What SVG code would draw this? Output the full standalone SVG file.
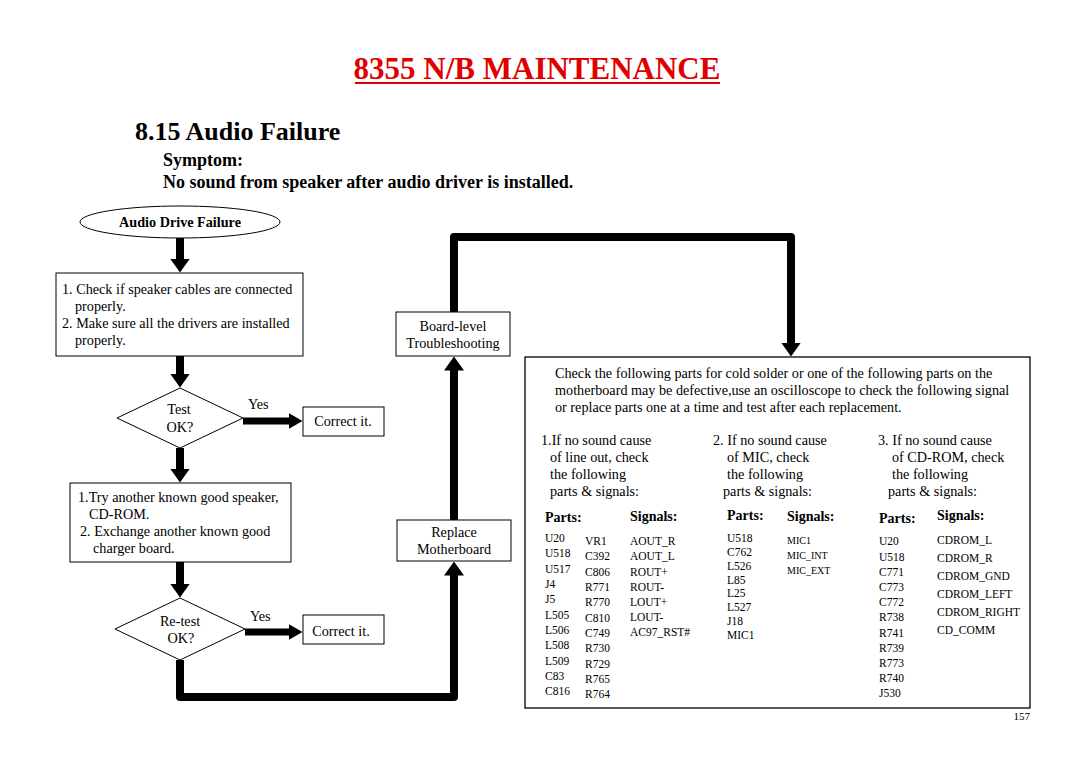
<svg xmlns="http://www.w3.org/2000/svg" width="1080" height="763" viewBox="0 0 1080 763">
<style>
text{font-family:"Liberation Serif","Times New Roman",serif;fill:#000}
.t{font-size:14.2px}
.c{text-anchor:middle}
.b{font-weight:bold}
.s{font-size:11.5px}
.xs{font-size:10px}
.h{font-size:14px;font-weight:bold}
.box{fill:#fff;stroke:#000;stroke-width:1}
.thick{fill:none;stroke:#000;stroke-width:8;stroke-linejoin:round}
.yes{fill:none;stroke:#000;stroke-width:7}
</style>
<defs>
<marker id="ah" viewBox="0 0 14 20" markerWidth="14" markerHeight="20" refX="0.5" refY="10" orient="auto" markerUnits="userSpaceOnUse">
<path d="M0,0 L14,10 L0,20 z" fill="#000"/>
</marker>
<marker id="ahs" viewBox="0 0 14 16" markerWidth="14" markerHeight="16" refX="0.5" refY="8" orient="auto" markerUnits="userSpaceOnUse">
<path d="M0,0 L14,8 L0,16 z" fill="#000"/>
</marker>
</defs>
<rect width="1080" height="763" fill="#fff"/>

<g id="title">
<text x="537" y="79" class="c b" style="font-size:31px;fill:#e00000">8355 N/B MAINTENANCE</text>
<rect x="355" y="82" width="365" height="2" fill="#e00000"/>
<text x="135" y="140" class="b" style="font-size:26px">8.15 Audio Failure</text>
<text x="163" y="166" class="b" style="font-size:18px">Symptom:</text>
<text x="163" y="188" class="b" style="font-size:18px">No sound from speaker after audio driver is installed.</text>
</g>

<g id="connectors">
<line x1="180" y1="238" x2="180" y2="259" class="thick" marker-end="url(#ah)"/>
<line x1="180" y1="356" x2="180" y2="374" class="thick" marker-end="url(#ah)"/>
<line x1="243" y1="421" x2="289" y2="421" class="yes" marker-end="url(#ahs)"/>
<line x1="180" y1="448" x2="180" y2="469" class="thick" marker-end="url(#ah)"/>
<line x1="180" y1="562" x2="180" y2="584" class="thick" marker-end="url(#ah)"/>
<line x1="245" y1="632" x2="289" y2="632" class="yes" marker-end="url(#ahs)"/>
<polyline points="180,660 180,697 454,697 454,575" class="thick" marker-end="url(#ah)"/>
<line x1="454" y1="520" x2="454" y2="370" class="thick" marker-end="url(#ah)"/>
<polyline points="454,312 454,237 791,237 791,343" class="thick" marker-end="url(#ah)"/>
</g>

<g id="start">
<ellipse cx="180" cy="222" rx="100" ry="16" class="box"/>
<text x="180" y="227" class="c b" style="font-size:14.2px">Audio Drive Failure</text>
</g>

<g id="step1">
<rect x="56" y="273" width="247" height="83" class="box"/>
<text class="t" x="62" y="294">1. Check if  speaker cables are connected</text>
<text class="t" x="75" y="311">properly.</text>
<text class="t" x="62" y="328">2. Make sure all the drivers are installed</text>
<text class="t" x="75" y="345">properly.</text>
</g>

<g id="test1">
<polygon points="180,388 243,418 180,448 117,418" class="box"/>
<text class="t c" x="179" y="414">Test</text>
<text class="t c" x="180" y="432">OK?</text>
<text class="t" x="248" y="409">Yes</text>
</g>

<g id="correct1">
<rect x="303" y="407" width="81" height="29" class="box"/>
<text class="t c" x="343" y="426">Correct it.</text>
</g>

<g id="step2">
<rect x="70" y="483" width="221" height="79" class="box"/>
<text class="t" x="78" y="502">1.Try another known good speaker,</text>
<text class="t" x="89" y="519">CD-ROM.</text>
<text class="t" x="80" y="536">2. Exchange another known good</text>
<text class="t" x="93" y="553">charger board.</text>
</g>

<g id="test2">
<polygon points="180,598 245,629 180,660 115,629" class="box"/>
<text class="t c" x="180" y="626">Re-test</text>
<text class="t c" x="181" y="643">OK?</text>
<text class="t" x="250" y="621">Yes</text>
</g>

<g id="correct2">
<rect x="303" y="615" width="81" height="29" class="box"/>
<text class="t c" x="341" y="636">Correct it.</text>
</g>

<g id="replace">
<rect x="397" y="520" width="114" height="41" class="box"/>
<text class="t c" x="454" y="537">Replace</text>
<text class="t c" x="454" y="554">Motherboard</text>
</g>

<g id="boardlevel">
<rect x="396" y="312" width="114" height="44" class="box"/>
<text class="t c" x="453" y="331">Board-level</text>
<text class="t c" x="453" y="348">Troubleshooting</text>
</g>

<g id="checklist">
<rect x="525" y="357" width="505" height="351" class="box" style="stroke-width:1.3"/>
<text class="t" x="555" y="378">Check the following parts for cold solder or one of the following parts on the</text>
<text class="t" x="555" y="395">motherboard may be defective,use an oscilloscope to check the following signal</text>
<text class="t" x="555" y="412">or replace parts one at a time and test after each replacement.</text>

<text class="t" x="541" y="445">1.If no sound cause</text>
<text class="t" x="550" y="462">of line out, check</text>
<text class="t" x="550" y="479">the following</text>
<text class="t" x="550" y="496">parts &amp; signals:</text>

<text class="t" x="713" y="445">2. If no sound cause</text>
<text class="t" x="727" y="462">of  MIC, check</text>
<text class="t" x="727" y="479">the following</text>
<text class="t" x="723" y="496">parts &amp; signals:</text>

<text class="t" x="878" y="445">3. If no sound cause</text>
<text class="t" x="892" y="462">of CD-ROM, check</text>
<text class="t" x="892" y="479">the following</text>
<text class="t" x="888" y="496">parts &amp; signals:</text>

<text class="h" x="545" y="522">Parts:</text>
<text class="h" x="630" y="521">Signals:</text>
<text class="h" x="727" y="520">Parts:</text>
<text class="h" x="787" y="521">Signals:</text>
<text class="h" x="879" y="523">Parts:</text>
<text class="h" x="937" y="520">Signals:</text>

<g class="s">
<text x="545" y="542">U20</text>
<text x="545" y="557">U518</text>
<text x="545" y="573">U517</text>
<text x="545" y="588">J4</text>
<text x="545" y="603">J5</text>
<text x="545" y="619">L505</text>
<text x="545" y="634">L506</text>
<text x="545" y="649">L508</text>
<text x="545" y="665">L509</text>
<text x="545" y="680">C83</text>
<text x="545" y="695">C816</text>

<text x="585" y="545">VR1</text>
<text x="585" y="560">C392</text>
<text x="585" y="576">C806</text>
<text x="585" y="591">R771</text>
<text x="585" y="606">R770</text>
<text x="585" y="622">C810</text>
<text x="585" y="637">C749</text>
<text x="585" y="652">R730</text>
<text x="585" y="668">R729</text>
<text x="585" y="683">R765</text>
<text x="585" y="698">R764</text>

<text x="630" y="545">AOUT_R</text>
<text x="630" y="560">AOUT_L</text>
<text x="630" y="576">ROUT+</text>
<text x="630" y="591">ROUT-</text>
<text x="630" y="606">LOUT+</text>
<text x="630" y="621">LOUT-</text>
<text x="630" y="636">AC97_RST#</text>

<text x="727" y="542">U518</text>
<text x="727" y="556">C762</text>
<text x="727" y="570">L526</text>
<text x="727" y="584">L85</text>
<text x="727" y="597">L25</text>
<text x="727" y="611">L527</text>
<text x="727" y="625">J18</text>
<text x="727" y="639">MIC1</text>

<text x="879" y="545">U20</text>
<text x="879" y="561">U518</text>
<text x="879" y="576">C771</text>
<text x="879" y="591">C773</text>
<text x="879" y="606">C772</text>
<text x="879" y="621">R738</text>
<text x="879" y="637">R741</text>
<text x="879" y="652">R739</text>
<text x="879" y="667">R773</text>
<text x="879" y="682">R740</text>
<text x="879" y="697">J530</text>

<text x="937" y="544">CDROM_L</text>
<text x="937" y="562">CDROM_R</text>
<text x="937" y="580">CDROM_GND</text>
<text x="937" y="598">CDROM_LEFT</text>
<text x="937" y="616">CDROM_RIGHT</text>
<text x="937" y="634">CD_COMM</text>
</g>
<g class="xs">
<text x="787" y="544">MIC1</text>
<text x="787" y="559">MIC_INT</text>
<text x="787" y="574">MIC_EXT</text>
</g>
</g>

<g id="footer">
<text x="1030" y="720" style="font-size:11px;text-anchor:end">157</text>
</g>
</svg>
